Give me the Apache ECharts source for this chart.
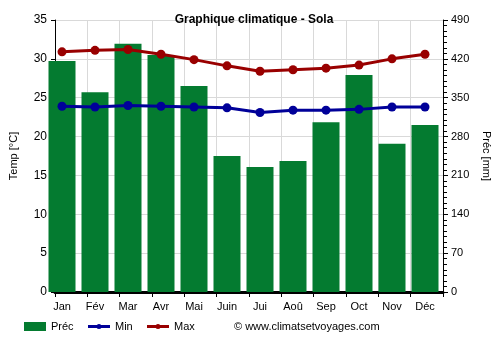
<!DOCTYPE html>
<html><head><meta charset="utf-8">
<script src="https://cdn.jsdelivr.net/npm/echarts@6/dist/echarts.min.js"></script>
<style>html,body{margin:0;padding:0;background:#fff}#c{width:500px;height:350px}</style>
</head><body><div id="c"></div>
<script>
const months = ['Jan','Fév','Mar','Avr','Mai','Juin','Jui','Aoû','Sep','Oct','Nov','Déc'];
const precip = [416,360,447,427,371,245,225,236,306,391,267,301];
const tMin = [23.9,23.8,24.0,23.9,23.8,23.7,23.1,23.4,23.4,23.5,23.8,23.8];
const tMax = [30.9,31.1,31.2,30.6,29.9,29.1,28.4,28.6,28.8,29.2,30.0,30.6];
const tempTicks = {min:0,max:35,interval:5};
const precTicks = {min:0,max:490,interval:70};

const chart = echarts.init(document.getElementById('c'), null, {renderer:'canvas'});
const font = 'Arial, "Liberation Sans", sans-serif';
chart.setOption({
  animation:false,
  title:{text:'Graphique climatique - Sola',left:249,textAlign:'center',top:9,
    textStyle:{fontFamily:font,fontSize:12,fontWeight:'bold',color:'#000'}},
  grid:[
    {left:45.5,width:396,top:20,bottom:58},
    {left:49,width:396,top:20,bottom:58}
  ],
  legend:{show:false},
  xAxis:[
    {type:'category',gridIndex:0,data:months,boundaryGap:true,
     axisLine:{show:false},axisTick:{show:false},splitLine:{show:false},
     axisLabel:{fontFamily:font,fontSize:11,color:'#000',margin:9}},
    {type:'category',gridIndex:1,data:months,boundaryGap:true,
     axisLine:{show:true,lineStyle:{color:'#000',width:3}},
     axisTick:{show:true,length:5,lineStyle:{color:'#000'}},
     splitLine:{show:true,lineStyle:{color:'#d9d9d9'}},
     axisLabel:{show:false}}
  ],
  yAxis:[
    {type:'value',gridIndex:0,...tempTicks,show:false},
    {type:'value',gridIndex:0,...precTicks,show:false},
    {type:'value',gridIndex:1,...tempTicks,position:'left',
     name:'Temp [°C]',nameLocation:'middle',nameGap:36,
     nameTextStyle:{fontFamily:font,fontSize:11,color:'#000'},
     axisLine:{show:true,lineStyle:{color:'#000'}},
     axisTick:{show:true,length:4,lineStyle:{color:'#000'}},
     splitLine:{show:true,lineStyle:{color:'#d9d9d9'}},
     axisLabel:{fontFamily:font,fontSize:12,color:'#000',margin:8}},
    {type:'value',gridIndex:1,...precTicks,position:'right',
     name:'Préc [mm]',nameLocation:'middle',nameGap:38,nameRotate:-90,
     nameTextStyle:{fontFamily:font,fontSize:11,color:'#000'},
     axisLine:{show:true,lineStyle:{color:'#000'}},
     axisTick:{show:true,length:5,lineStyle:{color:'#000'}},
     minorTick:{show:true,splitNumber:7,length:4,lineStyle:{color:'#000'}},
     splitLine:{show:false},
     axisLabel:{fontFamily:font,fontSize:11,color:'#000',margin:8}}
  ],
  series:[
    {name:'Préc',type:'bar',xAxisIndex:0,yAxisIndex:1,data:precip,barWidth:27,
     itemStyle:{color:'#047b30'},z:3},
    {name:'Min',type:'line',xAxisIndex:0,yAxisIndex:0,data:tMin,
     symbol:'circle',symbolSize:9,lineStyle:{color:'#000099',width:3},
     itemStyle:{color:'#000099'},z:5},
    {name:'Max',type:'line',xAxisIndex:0,yAxisIndex:0,data:tMax,
     symbol:'circle',symbolSize:9,lineStyle:{color:'#990000',width:3},
     itemStyle:{color:'#990000'},z:5}
  ],
  graphic:[
    {type:'rect',shape:{x:24,y:322,width:22,height:9},style:{fill:'#047b30'}},
    {type:'text',style:{x:51,y:327,text:'Préc',font:'11px '+font,fill:'#000',textVerticalAlign:'middle'}},
    {type:'line',shape:{x1:88,y1:326.5,x2:110,y2:326.5},style:{stroke:'#000099',lineWidth:3}},
    {type:'circle',shape:{cx:99,cy:326.5,r:2.5},style:{fill:'#000099'}},
    {type:'text',style:{x:115,y:327,text:'Min',font:'11px '+font,fill:'#000',textVerticalAlign:'middle'}},
    {type:'line',shape:{x1:147,y1:326.5,x2:169,y2:326.5},style:{stroke:'#990000',lineWidth:3}},
    {type:'circle',shape:{cx:158,cy:326.5,r:2.5},style:{fill:'#990000'}},
    {type:'text',style:{x:174,y:327,text:'Max',font:'11px '+font,fill:'#000',textVerticalAlign:'middle'}},
    {type:'text',style:{x:234,y:327,text:'© www.climatsetvoyages.com',font:'11px '+font,fill:'#000',textVerticalAlign:'middle'}}
  ]
});
</script></body></html>
